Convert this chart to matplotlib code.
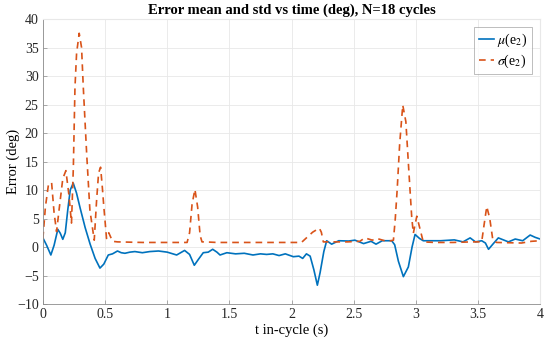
import matplotlib.pyplot as plt

# mean error mu(e2)
t_mu = [0.0, 0.03, 0.064, 0.09, 0.12, 0.14, 0.16, 0.18, 0.2, 0.22, 0.244, 0.27,
        0.3, 0.34, 0.38, 0.42, 0.459, 0.49, 0.526, 0.56, 0.6, 0.63, 0.66, 0.7,
        0.74, 0.8, 0.86, 0.93, 1.0, 1.076, 1.14, 1.18, 1.218, 1.25, 1.29, 1.33,
        1.366, 1.4, 1.425, 1.48, 1.55, 1.62, 1.69, 1.75, 1.8, 1.85, 1.9, 1.95,
        2.015, 2.06, 2.09, 2.12, 2.15, 2.18, 2.208, 2.23, 2.26, 2.283, 2.323,
        2.38, 2.46, 2.51, 2.58, 2.64, 2.68, 2.73, 2.806, 2.83, 2.86, 2.9, 2.94,
        2.97, 2.994, 3.03, 3.06, 3.12, 3.2, 3.31, 3.38, 3.437, 3.48, 3.53,
        3.56, 3.585, 3.62, 3.664, 3.745, 3.8, 3.86, 3.92, 3.96, 4.0]
mu = [1.6, 0.3, -1.4, 0.3, 3.1, 2.4, 1.35, 2.5, 6.5, 10.0, 11.2, 9.5,
      6.8, 3.4, 0.5, -2.0, -3.7, -3.0, -1.4, -1.2, -0.7, -1.0, -1.1, -0.9,
      -0.8, -1.0, -0.8, -0.7, -0.9, -1.4, -0.6, -1.3, -3.2, -2.2, -1.0, -0.9,
      -0.4, -0.9, -1.4, -1.0, -1.2, -1.1, -1.4, -1.2, -1.3, -1.2, -1.5, -1.2,
      -1.7, -1.6, -2.0, -1.2, -1.6, -4.0, -6.7, -4.5, -0.8, 1.1, 0.5,
      1.1, 1.05, 1.2, 0.6, 1.0, 0.5, 1.1, 1.1, 0.4, -2.5, -5.2, -3.5,
      0.0, 2.2, 1.5, 1.1, 1.1, 1.1, 1.25, 0.9, 1.6, 0.9, 1.1,
      0.7, -0.4, 0.5, 1.6, 0.9, 1.4, 1.1, 2.1, 1.7, 1.4]

# std of error sigma(e2)
t_sd = [0.0, 0.02, 0.045, 0.07, 0.09, 0.11, 0.13, 0.16, 0.185, 0.21, 0.23,
        0.245, 0.258, 0.271, 0.292, 0.311, 0.325, 0.352, 0.378, 0.413, 0.432,
        0.448, 0.464, 0.478, 0.49, 0.512, 0.53, 0.56, 0.6, 0.8, 1.0, 1.16,
        1.18, 1.2, 1.223, 1.245, 1.265, 1.28, 1.3, 1.4, 1.6, 1.8, 2.0, 2.08,
        2.13, 2.17, 2.2, 2.224, 2.24, 2.256, 2.3, 2.45, 2.55, 2.59, 2.65, 2.686,
        2.75, 2.8, 2.82, 2.835, 2.85, 2.87, 2.895, 2.92, 2.945, 2.967, 2.98,
        3.008, 3.03, 3.06, 3.15, 3.3, 3.45, 3.53, 3.55, 3.571, 3.595, 3.62,
        3.65, 3.75, 3.85, 3.93, 4.0]
sd = [1.5, 7.0, 11.0, 11.3, 6.0, 2.7, 6.5, 12.0, 13.4, 9.0, 4.2,
      14.0, 28.0, 34.0, 37.5, 35.0, 28.0, 16.4, 6.5, 1.2, 8.2,
      13.0, 14.0, 10.5, 7.1, 1.5, 2.5, 1.0, 0.9, 0.8, 0.8, 0.8,
      2.5, 7.5, 10.1, 7.0, 2.0, 0.9, 0.9, 0.8, 0.8, 0.8, 0.8, 0.8,
      1.8, 2.6, 3.0, 3.3, 2.6, 0.9, 0.9, 0.9, 1.0, 1.6, 1.2, 1.5,
      1.1, 1.1, 1.2, 5.0, 10.0, 18.0, 24.9, 22.0, 13.0, 5.3, 2.4,
      5.4, 3.5, 0.9, 0.8, 0.8, 0.9, 0.9, 4.0, 7.1, 5.0, 1.2,
      0.8, 0.75, 0.7, 1.0, 1.1]

plt.rcParams['font.family'] = ['Liberation Serif', 'DejaVu Serif']
plt.rcParams['mathtext.fontset'] = 'stix'

fig = plt.figure(figsize=(5.5, 3.48), dpi=100)
ax = fig.add_axes([0.078, 0.1264, 0.904, 0.819])

ax.plot(t_mu, mu, color='#0072BD', lw=1.2, label=r'$\mu$(e$_2$)')
ax.plot(t_sd, sd, color='#D95319', lw=1.2, ls=(0, (4, 3)), label=r'$\sigma$(e$_2$)')

ax.set_xlim(0, 4)
ax.set_ylim(-10, 40)
ax.set_xticks([0, 0.5, 1, 1.5, 2, 2.5, 3, 3.5, 4])
ax.set_xticklabels(['0', '0.5', '1', '1.5', '2', '2.5', '3', '3.5', '4'])
ax.set_yticks(range(-10, 41, 5))
ax.grid(True, color='#e8e8e8', lw=0.6)
ax.set_axisbelow(True)
for s in ['top', 'right']:
    ax.spines[s].set_color('#e8e8e8')
for s in ['left', 'bottom']:
    ax.spines[s].set_color('#8c8c8c')
    ax.spines[s].set_linewidth(0.6)
ax.tick_params(direction='in', length=3, width=0.5, labelsize=10, colors='#8c8c8c',
               labelcolor='#262626', top=False, right=False, pad=3)

ax.set_xlabel('t in-cycle (s)', fontsize=10.5, labelpad=2)
ax.set_ylabel('Error (deg)', fontsize=10.5)
ax.yaxis.set_label_coords(-0.046, 0.5)
ax.set_title('Error mean and std vs time (deg), N=18 cycles', fontsize=10.5,
             fontweight='bold', pad=4)

leg = ax.legend(loc='upper right', fontsize=10, frameon=True, fancybox=False,
                handlelength=1.1, handletextpad=0.25, borderpad=0.3,
                labelspacing=0.25, borderaxespad=0.6)
leg.get_frame().set_edgecolor('#8c8c8c')
leg.get_frame().set_linewidth(0.5)

plt.savefig('out.png', dpi=100)
